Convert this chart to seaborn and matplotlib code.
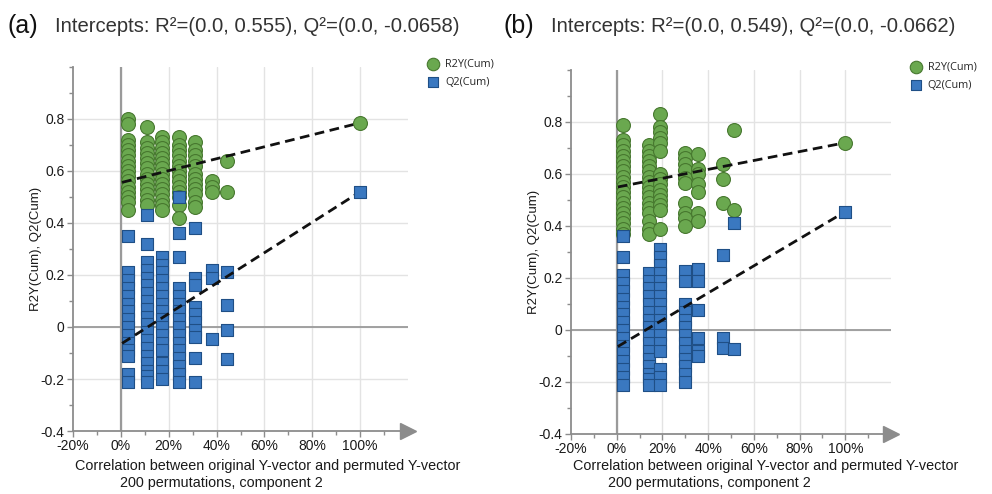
import pandas as pd
import matplotlib
matplotlib.use("Agg")
import matplotlib.pyplot as plt
import seaborn as sns
from matplotlib.ticker import MultipleLocator, FuncFormatter

# ---------------- data ----------------
# panel (a): permutation columns (x = correlation with original Y)
a_cols_x = [0.03, 0.11, 0.17, 0.245, 0.31, 0.38, 0.445]
a_r2 = [
    [0.80, 0.78, 0.72, 0.70, 0.68, 0.66, 0.64, 0.62, 0.60, 0.58, 0.56, 0.54, 0.52, 0.50, 0.48, 0.45],
    [0.77, 0.71, 0.69, 0.67, 0.65, 0.63, 0.61, 0.59, 0.57, 0.55, 0.53, 0.51, 0.49, 0.47],
    [0.73, 0.71, 0.69, 0.67, 0.65, 0.63, 0.61, 0.59, 0.57, 0.55, 0.53, 0.51, 0.49, 0.47, 0.45],
    [0.73, 0.70, 0.68, 0.66, 0.64, 0.62, 0.60, 0.58, 0.56, 0.54, 0.52, 0.50, 0.47, 0.42],
    [0.71, 0.68, 0.66, 0.64, 0.62, 0.59, 0.57, 0.55, 0.53, 0.51, 0.48, 0.46],
    [0.56, 0.54, 0.52],
    [0.64, 0.52],
]
a_q2 = [
    [0.35, 0.21, 0.18, 0.15, 0.12, 0.09, 0.06, 0.03, 0.0, -0.03, -0.06, -0.09, -0.11, -0.18, -0.21],
    [0.43, 0.32, 0.25, 0.22, 0.19, 0.16, 0.13, 0.10, 0.07, 0.04, 0.01, -0.02, -0.05, -0.08, -0.11,
     -0.14, -0.17, -0.19, -0.21],
    [0.27, 0.24, 0.21, 0.18, 0.15, 0.12, 0.09, 0.06, 0.03, 0.0, -0.03, -0.06, -0.09, -0.14, -0.17, -0.20],
    [0.50, 0.36, 0.27, 0.15, 0.12, 0.09, 0.06, 0.03, 0.0, -0.03, -0.06, -0.09, -0.12, -0.15, -0.18, -0.21],
    [0.38, 0.19, 0.16, 0.075, 0.05, 0.02, -0.01, -0.04, -0.12, -0.21],
    [0.22, 0.19, -0.045],
    [0.21, 0.085, -0.01, -0.125],
]
a_orig = [1.0, 0.785, 0.52]          # x, R2Y, Q2 of the original model
a_intercepts = [0.555, -0.0658]

# panel (b)
b_cols_x = [0.029, 0.143, 0.19, 0.30, 0.355, 0.467, 0.514]
b_r2 = [
    [0.79, 0.73, 0.71, 0.69, 0.67, 0.65, 0.63, 0.61, 0.59, 0.57, 0.55, 0.53, 0.51, 0.49, 0.47, 0.45,
     0.43, 0.41, 0.39, 0.37],
    [0.71, 0.69, 0.67, 0.65, 0.63, 0.61, 0.59, 0.57, 0.55, 0.53, 0.51, 0.49, 0.47, 0.45, 0.42, 0.39, 0.37],
    [0.83, 0.78, 0.76, 0.74, 0.72, 0.69, 0.60, 0.58, 0.56, 0.54, 0.52, 0.50, 0.48, 0.46, 0.39],
    [0.68, 0.66, 0.64, 0.615, 0.585, 0.565, 0.49, 0.45, 0.43, 0.40],
    [0.675, 0.62, 0.60, 0.56, 0.53, 0.45, 0.42],
    [0.64, 0.58, 0.49],
    [0.77, 0.46],
]
b_q2 = [
    [0.36, 0.28, 0.21, 0.18, 0.15, 0.12, 0.09, 0.06, 0.03, 0.0, -0.03, -0.06, -0.09, -0.12, -0.15,
     -0.18, -0.21],
    [0.22, 0.19, 0.16, 0.13, 0.10, 0.07, 0.04, 0.01, -0.02, -0.05, -0.08, -0.11, -0.14, -0.17, -0.19, -0.21],
    [0.31, 0.28, 0.25, 0.22, 0.19, 0.16, 0.13, 0.10, 0.07, 0.04, 0.01, -0.02, -0.05, -0.08, -0.15,
     -0.18, -0.21],
    [0.225, 0.19, 0.10, 0.07, 0.04, 0.01, -0.02, -0.05, -0.08, -0.11, -0.14, -0.17, -0.20],
    [0.235, 0.19, 0.075, -0.03, -0.08, -0.10],
    [0.29, -0.03, -0.07],
    [0.41, -0.075],
]
b_orig = [1.0, 0.72, 0.455]
b_intercepts = [0.549, -0.0662]

x_ticks = [-0.2, 0.0, 0.2, 0.4, 0.6, 0.8, 1.0]
y_ticks = [-0.4, -0.2, 0.0, 0.2, 0.4, 0.6, 0.8]

GREEN, GREEN_EDGE = "#6aa84f", "#47782f"
BLUE, BLUE_EDGE = "#3a78c0", "#1f4f86"
AXIS_GRAY = "#8c8c8c"


def long_frame(cols_x, cols_vals):
    rows = [(x, v) for x, vals in zip(cols_x, cols_vals) for v in vals]
    return pd.DataFrame(rows, columns=["corr", "value"])


sns.set_style("white")
plt.rcParams['font.family'] = ['Liberation Sans', 'DejaVu Sans']

fig = plt.figure(figsize=(9.92, 4.94), dpi=100)
ax_a = fig.add_axes([0.0736, 0.1275, 0.3377, 0.737])
ax_b = fig.add_axes([0.5756, 0.1215, 0.3226, 0.737])

panels = [
    (ax_a, a_cols_x, a_r2, a_q2, a_orig, a_intercepts, "(a)",
     "Intercepts: R\u00b2=(0.0, 0.555), Q\u00b2=(0.0, -0.0658)", 0.008, 0.055, 75, 120),
    (ax_b, b_cols_x, b_r2, b_q2, b_orig, b_intercepts, "(b)",
     "Intercepts: R\u00b2=(0.0, 0.549), Q\u00b2=(0.0, -0.0662)", 0.508, 0.555, 573, 608),
]

green_kw = dict(marker="o", s=100, color=GREEN, edgecolor=GREEN_EDGE, linewidth=0.8)
blue_kw = dict(marker="s", s=72, color=BLUE, edgecolor=BLUE_EDGE, linewidth=0.8)

for ax, cx, r2, q2, orig, icp, tag, title, tag_x, title_x, lab1_px, lab2_px in panels:
    r2_df = long_frame(cx, r2)
    q2_df = long_frame(cx, q2)
    orig_df = pd.DataFrame({"corr": [orig[0]], "r2": [orig[1]], "q2": [orig[2]]})

    ax.set_xlim(-0.2, 1.2)
    ax.set_ylim(-0.4, 1.0)

    # grid and zero lines
    for xt in x_ticks[1:]:
        ax.axvline(xt, color="#e3e3e3", lw=1, zorder=0)
    for yt in y_ticks[1:]:
        ax.axhline(yt, color="#e3e3e3", lw=1, zorder=0)
    ax.axvline(0, color="#9a9a9a", lw=1.6, zorder=1)
    ax.axhline(0, color="#9a9a9a", lw=1.3, zorder=1)

    sns.scatterplot(data=r2_df, x="corr", y="value", ax=ax, zorder=3,
                    label="R2Y(Cum)", **green_kw)
    sns.scatterplot(data=q2_df, x="corr", y="value", ax=ax, zorder=4,
                    label="Q2(Cum)", **blue_kw)
    # original model points sit on top of the dashed line ends
    sns.scatterplot(data=orig_df, x="corr", y="r2", ax=ax, zorder=7, legend=False, **green_kw)
    sns.scatterplot(data=orig_df, x="corr", y="q2", ax=ax, zorder=7, legend=False, **blue_kw)

    # regression lines from intercept to the original model
    x0 = 0.005
    ax.plot([x0, orig[0]], [icp[0] + (orig[1] - icp[0]) * x0, orig[1]],
            ls=(0, (3.5, 2)), color="#111111", lw=2, zorder=5)
    ax.plot([x0, orig[0]], [icp[1] + (orig[2] - icp[1]) * x0, orig[2]],
            ls=(0, (3.5, 2)), color="#111111", lw=2, zorder=5)

    # axes styling
    for side in ["top", "right"]:
        ax.spines[side].set_visible(False)
    ax.spines["left"].set_color(AXIS_GRAY)
    ax.spines["bottom"].set_color(AXIS_GRAY)
    ax.spines["left"].set_linewidth(1.3)
    ax.spines["bottom"].set_linewidth(1.3)
    ax.plot([1.2], [-0.4], marker=">", ms=11, color=AXIS_GRAY, clip_on=False,
            transform=ax.transData, zorder=6)

    ax.set_xticks(x_ticks)
    ax.set_yticks(y_ticks)
    ax.xaxis.set_minor_locator(MultipleLocator(0.1))
    ax.yaxis.set_minor_locator(MultipleLocator(0.1))
    ax.xaxis.set_major_formatter(FuncFormatter(lambda v, p: f"{v * 100:.0f}%"))
    ax.yaxis.set_major_formatter(FuncFormatter(lambda v, p: f"{v:g}" if abs(v) > 1e-9 else "0"))
    ax.tick_params(axis="both", which="both", colors=AXIS_GRAY, labelcolor="#1a1a1a",
                   labelsize=10, direction="out")
    ax.tick_params(axis="both", which="major", length=4, width=1)
    ax.tick_params(axis="both", which="minor", length=3, width=1)
    ax.tick_params(axis="x", which="both", bottom=True, pad=2)
    ax.tick_params(axis="y", which="both", left=True, pad=2)

    ax.set_xlabel("")
    ax.set_ylabel("R2Y(Cum), Q2(Cum)", fontsize=9.5, color="#1a1a1a", labelpad=-1)

    fig.text(lab1_px / 992, 1 - 470 / 494, "Correlation between original Y-vector and permuted Y-vector",
             fontsize=10.4, color="#1a1a1a")
    fig.text(lab2_px / 992, 1 - 487 / 494, "200 permutations, component 2",
             fontsize=10.4, color="#1a1a1a")

    fig.text(tag_x, 1 - 33 / 494, tag, fontsize=18, color="#111111")
    fig.text(title_x, 1 - 32 / 494, title, fontsize=14.6, color="#333333")

    leg = ax.legend(loc="upper left", bbox_to_anchor=(1.03, 1.035), frameon=False,
                    handletextpad=0.1, labelspacing=0.65, borderaxespad=0,
                    markerscale=0.9, prop={"family": "Open Sans", "size": 7.8})

fig.savefig("out.png", dpi=100)
